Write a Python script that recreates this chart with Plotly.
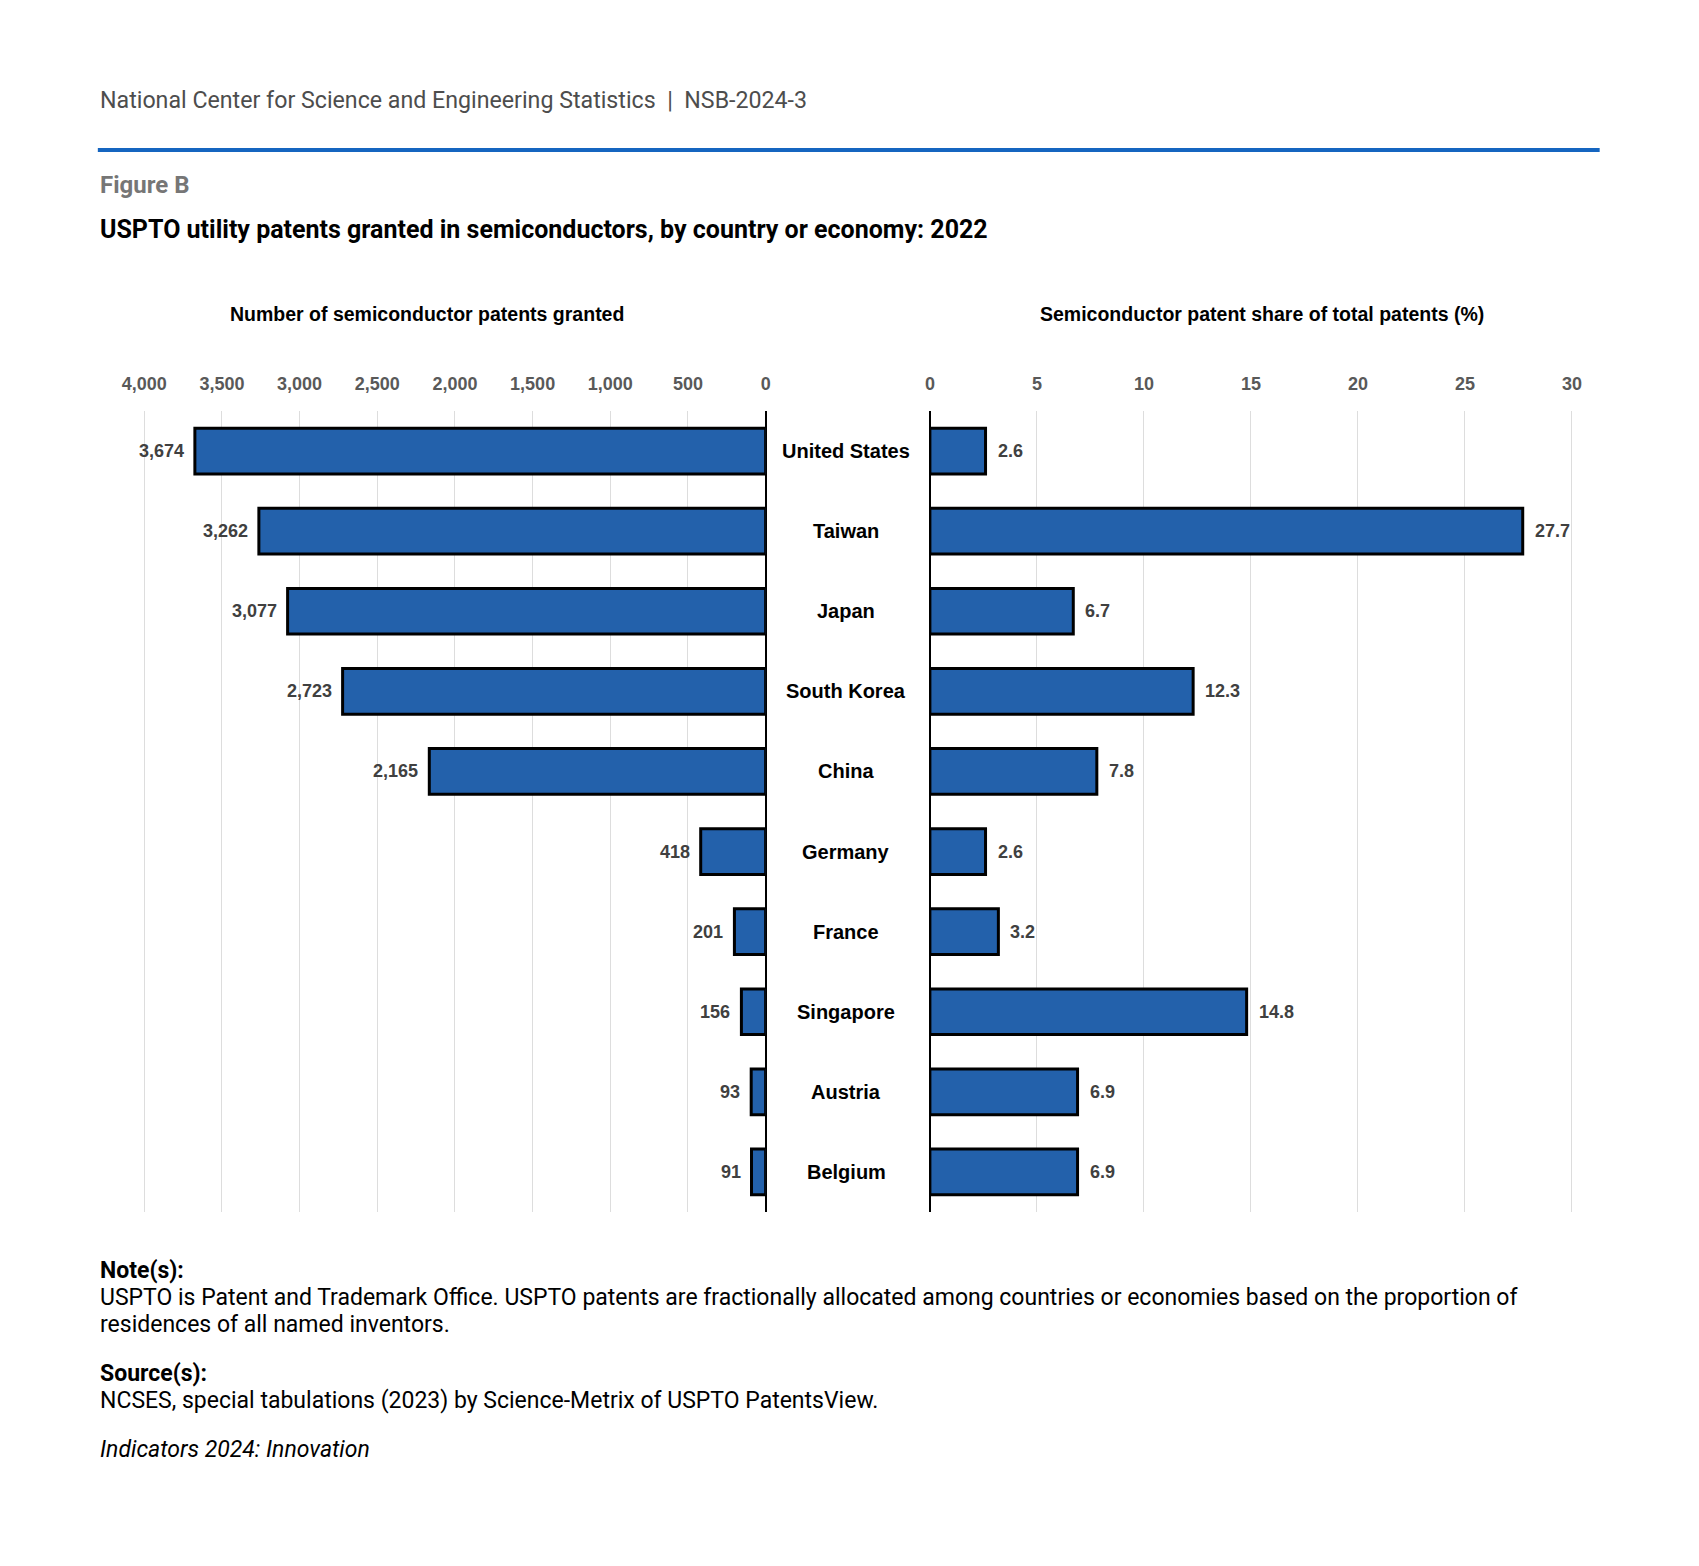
import plotly.graph_objects as go

countries = ["United States", "Taiwan", "Japan", "South Korea", "China",
             "Germany", "France", "Singapore", "Austria", "Belgium"]
patents = [3674, 3262, 3077, 2723, 2165, 418, 201, 156, 93, 91]
share = [2.6, 27.7, 6.7, 12.3, 7.8, 2.6, 3.2, 14.8, 6.9, 6.9]
left_ticks = [0, 500, 1000, 1500, 2000, 2500, 3000, 3500, 4000]
right_ticks = [0, 5, 10, 15, 20, 25, 30]

W, H = 1699, 1566
def px(x):
    return x / W
def py(y):
    return 1 - y / H

BAR = "#2361AB"
CHART_FONT = "Liberation Sans, Arial, sans-serif"
TEXT_FONT = "Roboto, sans-serif"

fig = go.Figure()
fig.add_trace(go.Bar(
    x=patents, y=countries, orientation="h", xaxis="x", yaxis="y",
    marker=dict(color=BAR, line=dict(color="black", width=3)),
    hoverinfo="x+y", showlegend=False,
))
fig.add_trace(go.Bar(
    x=share, y=countries, orientation="h", xaxis="x2", yaxis="y2",
    marker=dict(color=BAR, line=dict(color="black", width=3)),
    hoverinfo="x+y", showlegend=False,
))

ydom = [py(1204), py(403)]
axis_common = dict(
    side="top", showgrid=True, gridcolor="#DDDDDD", gridwidth=1,
    zeroline=True, zerolinecolor="black", zerolinewidth=1.5,
    showline=False, ticks="", ticklabelstandoff=16,
    tickfont=dict(family=CHART_FONT, size=18, color="#595959", weight="bold"),
)
fig.update_layout(
    width=W, height=H,
    margin=dict(l=0, r=0, t=0, b=0),
    paper_bgcolor="white", plot_bgcolor="white",
    bargap=0.43,
    xaxis=dict(domain=[px(115.8), px(750)], range=[4015, 0], anchor="y",
               tickvals=left_ticks, ticktext=[f"{v:,}" for v in left_ticks],
               **axis_common),
    xaxis2=dict(domain=[px(917), px(1572)], range=[0, 30.1], anchor="y2",
                tickvals=right_ticks, ticktext=[str(v) for v in right_ticks],
                **axis_common),
    yaxis=dict(domain=ydom, categoryorder="array",
               categoryarray=countries[::-1], showticklabels=False,
               showgrid=False, zeroline=False, ticks=""),
    yaxis2=dict(domain=ydom, categoryorder="array",
                categoryarray=countries[::-1], showticklabels=False,
                showgrid=False, zeroline=False, ticks="", anchor="x2"),
    font=dict(family=CHART_FONT),
)

ann = []
# value labels
for c, v in zip(countries, patents):
    ann.append(dict(x=v, y=c, xref="x", yref="y", text=f"{v:,}",
                    showarrow=False, xanchor="right", xshift=-9,
                    font=dict(family=CHART_FONT, size=18, color="#404040",
                              weight="bold")))
for c, v in zip(countries, share):
    ann.append(dict(x=v, y=c, xref="x2", yref="y2", text=f"{v:.1f}",
                    showarrow=False, xanchor="left", xshift=10,
                    font=dict(family=CHART_FONT, size=18, color="#404040",
                              weight="bold")))
# category labels
for c in countries:
    ann.append(dict(x=px(832), y=c, xref="paper", yref="y", text=c,
                    showarrow=False, xanchor="center",
                    font=dict(family=CHART_FONT, size=20, color="black",
                              weight="bold")))
# subplot titles
ann.append(dict(x=px(406), y=py(306), xref="paper", yref="paper",
                text="Number of semiconductor patents granted", showarrow=False,
                xanchor="center", yanchor="middle",
                font=dict(family=CHART_FONT, size=19.5, color="black", weight="bold")))
ann.append(dict(x=px(1255), y=py(306), xref="paper", yref="paper",
                text="Semiconductor patent share of total patents (%)", showarrow=False,
                xanchor="center", yanchor="middle",
                font=dict(family=CHART_FONT, size=19.5, color="black", weight="bold")))

def txt(y, text, size=23, color="black", weight="normal", style="normal"):
    ann.append(dict(x=px(71), y=py(y), xref="paper", yref="paper", text=text,
                    showarrow=False, xanchor="left", yanchor="middle",
                    font=dict(family=TEXT_FONT, size=size, color=color,
                              weight=weight, style=style)))

txt(92, "National Center for Science and Engineering Statistics \u00a0|\u00a0 NSB-2024-3",
    size=23.2, color="#4D4D4D")
txt(177, "Figure B", size=24, color="#767676", weight="bold")
txt(221, "USPTO utility patents granted in semiconductors, by country or economy: 2022",
    size=25, color="black", weight="bold")
txt(1262, "Note(s):", weight="bold")
txt(1289, "USPTO is Patent and Trademark Office. USPTO patents are fractionally allocated "
          "among countries or economies based on the proportion of")
txt(1316, "residences of all named inventors.")
txt(1365, "Source(s):", weight="bold")
txt(1392, "NCSES, special tabulations (2023) by Science-Metrix of USPTO PatentsView.")
txt(1441, "Indicators 2024: Innovation", style="italic")

fig.update_layout(annotations=ann)
fig.add_shape(type="line", xref="paper", yref="paper",
              x0=px(71), x1=px(1598), y0=py(142), y1=py(142),
              line=dict(color="#1565C0", width=4))

fig.write_html("out.html")
